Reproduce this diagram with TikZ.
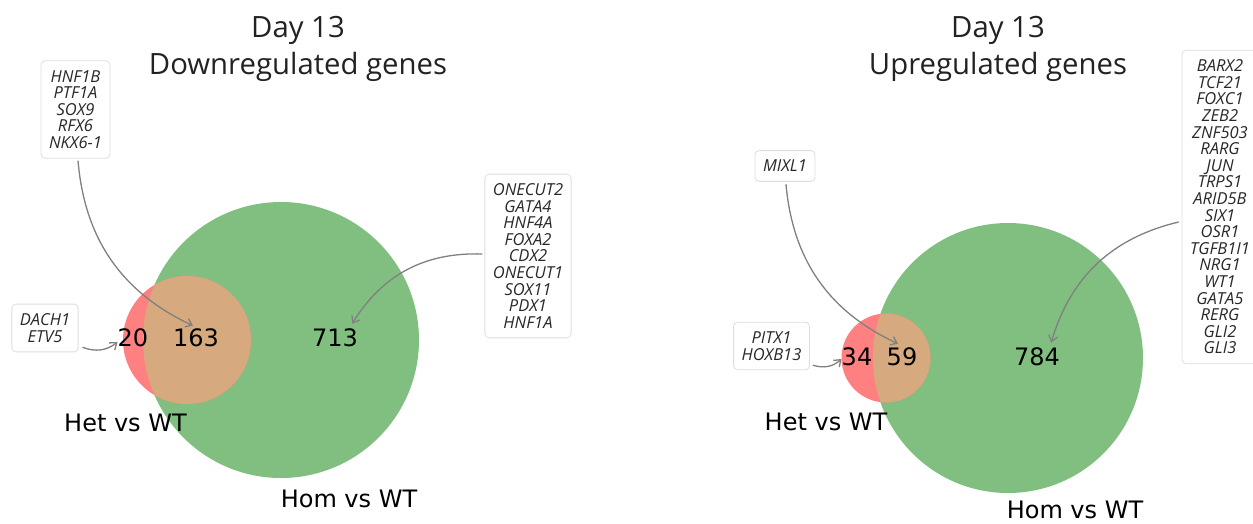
\documentclass[tikz,border=0pt]{standalone}
\usepackage{fontspec}
\setmainfont{DejaVu Sans}
\newfontfamily\titlefont{Open Sans}
\newfontfamily\genefont{Open Sans}
\usetikzlibrary{arrows.meta}

\definecolor{setred}{RGB}{255,128,128}
\definecolor{setgreen}{RGB}{128,191,128}
\definecolor{setboth}{RGB}{214,170,126}
\definecolor{boxline}{RGB}{221,221,221}
\definecolor{genetext}{RGB}{40,40,40}
\definecolor{titletext}{RGB}{34,34,34}

\tikzset{
  genes/.style={draw=boxline, line width=0.8pt, rounded corners=4pt, fill=white,
    align=center, inner xsep=8pt, inner ysep=9.5pt, text=genetext,
    font=\genefont\itshape\fontsize{16.5}{16.6}\selectfont},
  count/.style={font=\fontsize{24}{28}\selectfont, inner sep=0pt},
  setname/.style={font=\fontsize{24}{28}\selectfont, inner sep=0pt},
  heading/.style={font=\titlefont\fontsize{29.3}{33}\selectfont, text=titletext, anchor=base},
  pointer/.style={->, draw=gray, line width=1.3pt, bend right=30},
  >={Straight Barb[length=6pt,width=9pt]}
}

\begin{document}
\begin{tikzpicture}[x=1pt, y=-1pt]
\clip (0,0) rectangle (1253,524);

% Venn circles, downregulated
\fill[setgreen] (281,340) circle[radius=138pt];
\fill[setred] (187,340) circle[radius=64pt];
\begin{scope}
\clip (281,340) circle[radius=138pt];
\fill[setboth] (187,340) circle[radius=64pt];
\end{scope}

% Venn circles, upregulated
\fill[setgreen] (1008,358) circle[radius=135pt];
\fill[setred] (886,358) circle[radius=44.5pt];
\begin{scope}
\clip (1008,358) circle[radius=135pt];
\fill[setboth] (886,358) circle[radius=44.5pt];
\end{scope}

% Define nodes
\path
(298,37.5) node[heading] (dayA) {Day 13}
(298,75) node[heading] (titleA) {Downregulated genes}
(998,37.5) node[heading] (dayB) {Day 13}
(998,75) node[heading] (titleB) {Upregulated genes}
(133,338) node[count] (n20) {20}
(196,338) node[count] (n163) {163}
(335,338) node[count] (n713) {713}
(125.5,423) node[setname] (hetA) {Het vs WT}
(349,499) node[setname] (homA) {Hom vs WT}
(857,357) node[count] (n34) {34}
(902,357) node[count] (n59) {59}
(1037,357) node[count] (n784) {784}
(826,422) node[setname] (hetB) {Het vs WT}
(1075,510) node[setname] (homB) {Hom vs WT}
;

% Gene boxes
\path
(75.5,109.5) node[genes] (hnf) {HNF1B\\PTF1A\\SOX9\\RFX6\\NKX6-1}
(45,328) node[genes] (dach) {DACH1\\ETV5}
(528,256) node[genes] (onecut) {ONECUT2\\GATA4\\HNF4A\\FOXA2\\CDX2\\ONECUT1\\SOX11\\PDX1\\HNF1A}
(785,166) node[genes] (mixl) {MIXL1}
(771.5,346) node[genes] (pitx) {PITX1\\HOXB13}
(1220,207) node[genes] (barx) {BARX2\\TCF21\\FOXC1\\ZEB2\\ZNF503\\RARG\\JUN\\TRPS1\\ARID5B\\SIX1\\OSR1\\TGFB1I1\\NRG1\\WT1\\GATA5\\RERG\\GLI2\\GLI3}
;

\draw[pointer] ([xshift=2.5pt,yshift=-2pt]hnf.south) to ([xshift=-3pt,yshift=3pt]n163.north);
\draw[pointer] ([xshift=4pt,yshift=5pt]dach.south east) to ([yshift=-4pt]n20.west);
\draw[pointer] ([xshift=-2pt,yshift=2pt]onecut.west) to ([xshift=-6pt,yshift=5pt]n713.north east);
\draw[pointer] ([xshift=1pt,yshift=-2.5pt]mixl.south) to ([xshift=-4pt,yshift=4pt]n59.north);
\draw[pointer] ([xshift=3pt,yshift=5pt]pitx.south east) to ([yshift=-2pt]n34.west);
\draw[pointer] ([xshift=-3pt,yshift=-15pt]barx.west) to ([xshift=-9pt,yshift=5pt]n784.north east);

\end{tikzpicture}
\end{document}
